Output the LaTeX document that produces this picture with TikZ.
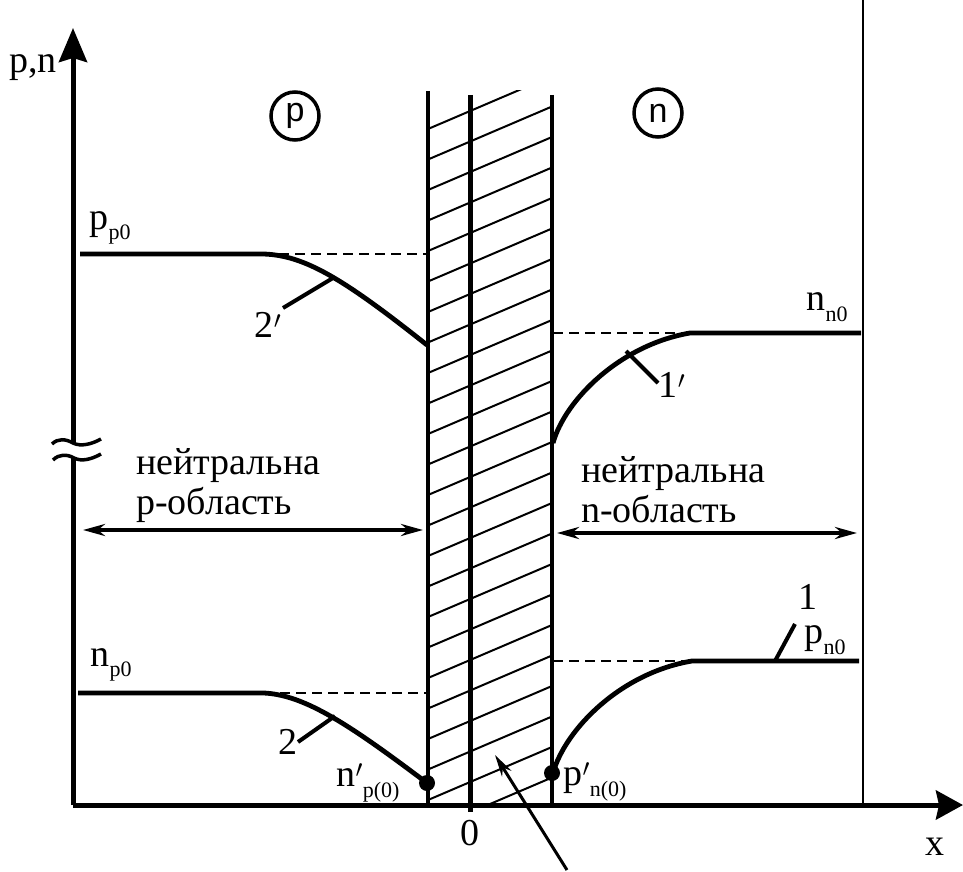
\documentclass[tikz,border=0pt]{standalone}
\usepackage{fontspec}
\setmainfont{Liberation Serif}
\newfontfamily\circfont{Liberation Sans}
\usetikzlibrary{arrows.meta}
% subscript set in a smaller size
\newcommand{\sbs}[1]{\raisebox{-0.28em}{\fontsize{22}{22}\selectfont #1}}

\begin{document}
\begin{tikzpicture}[x=1pt,y=-1pt,
  every node/.style={font=\fontsize{38}{40}\selectfont, inner sep=0pt},
  axis/.style={line width=5pt},
  carrier/.style={line width=4.8pt},
  level/.style={line width=2.2pt, dash pattern=on 10pt off 6pt},
  hatchline/.style={line width=2pt},
  tick/.style={line width=4pt},
  span/.style={line width=4pt, {Stealth[length=22pt,width=12pt]}-{Stealth[length=22pt,width=12pt]}},
  region/.style={circle, draw, line width=3.5pt, minimum size=48pt, font=\circfont\fontsize{34}{34}\selectfont}]
\useasboundingbox (0,0) rectangle (963,872);

% axes
\coordinate (O) at (73,805);
\coordinate (ylow) at (73,458);
\coordinate (yhigh) at (73,443);
\coordinate (ytop) at (73,28);
\coordinate (xend) at (963,805);
\draw[axis] (O) -- (ylow);
\draw[axis,-{Stealth[length=34pt,width=28pt,inset=4pt]}] (yhigh) -- (ytop);
\draw[axis,-{Stealth[length=27pt,width=29pt,inset=3pt]}] (O) -- (xend);
\draw[line width=3.5pt] (52,444) .. controls (58,438) and (66,439) .. (73,443) .. controls (81,447) and (92,444) .. (101,439);
\draw[line width=3.5pt] (53,460) .. controls (59,454) and (67,454) .. (74,458) .. controls (82,462) and (92,459) .. (101,454);
\node (yl) at (33,68) {p,n};
\node (xl) at (935,847) {x};
\node (zero) at (470,833) {0};
\draw[line width=1.8pt] (863,0) -- (863,805);

% space-charge layer
\begin{scope}
  \clip (428,91) rectangle (552,805);
  \foreach \k in {0,...,23}
    \draw[hatchline] (428,129+30.5*\k) -- ++(124,-53);
\end{scope}
\draw[line width=3.5pt] (428,91) -- (428,805);
\draw[line width=5pt] (470,95) -- (470,812);
\draw[line width=3.5pt] (552,95) -- (552,805);
\draw[line width=3pt,-{Stealth[length=22pt,width=11pt]}] (567,870) -- (495,755);

\node[region] (pc) at (295,116) {p};
\node[region] (nc) at (658,113) {n};

% majority carriers
\draw[carrier] (80,254) -- (263,254) .. controls (305,255) and (345,280) .. (427,345);
\draw[level] (263,254) -- (428,254);
\draw[carrier] (861,333) -- (690,333) .. controls (620,345) and (565,400) .. (553,443);
\draw[level] (553,333) -- (690,333);
\node (ppo) at (110,228) {p\sbs{p0}};
\node (nno) at (827,307) {n\sbs{n0}};
\node (lab2p) at (268,325) {2$'$};
\node (lab1p) at (672,385) {1$'$};
\draw[tick] (333,278) -- (283,308);
\draw[tick] (626,351) -- (658,383);

% minority carriers
\draw[carrier] (78,693) -- (264,693) .. controls (305,695) and (350,725) .. (427,783);
\draw[level,line width=1.6pt] (264,693) -- (428,693);
\draw[carrier] (859,661) -- (692,661) .. controls (620,673) and (565,730) .. (553,773);
\draw[level] (553,661) -- (692,661);
\fill (427,783) circle (8pt);
\fill (552,773) circle (8pt);
\node (npo) at (111,665) {n\sbs{p0}};
\node (pno) at (825,640) {p\sbs{n0}};
\node (lab2) at (288,742) {2};
\node (lab1) at (808,597) {1};
\node (npz) at (368,783) {n$'$\sbs{p(0)}};
\node (pnz) at (595,782) {p$'$\sbs{n(0)}};
\draw[tick] (335,716) -- (298,742);
\draw[tick] (775,661) -- (795,624);

% neutral regions
\node[anchor=west,align=left] (pneut) at (136,486) {нейтральна\\p-область};
\node[anchor=west,align=left] (nneut) at (581,490) {нейтральна\\n-область};
\draw[span] (83,530) -- (423,530);
\draw[span] (557,533) -- (857,533);
\end{tikzpicture}
\end{document}
